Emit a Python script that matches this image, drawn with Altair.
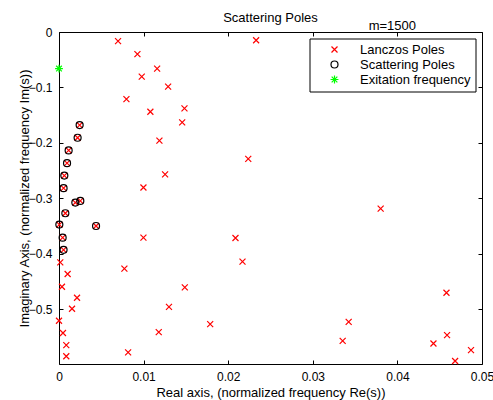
import altair as alt
import pandas as pd

# ---- data ----
# Lanczos poles (the ones not inside a circle)
lanczos_re = [0.00698, 0.00927, 0.0116, 0.00978, 0.0129, 0.00797, 0.0108, 0.01187,
              0.01254, 0.00998, 0.0233, 0.01483, 0.01456, 0.02237, 0.00998, 0.00773,
              0.0130, 0.01179, 0.00817, 0.02086, 0.02169, 0.01487, 0.01787, 0.03802,
              0.0458, 0.03424, 0.03353, 0.04587, 0.04426, 0.0487, 0.04682,
              0.00015, 0.00102, 0.00035, 0.00213, 0.00154, 0.0, 0.00047, 0.00086, 0.00086]
lanczos_im = [-0.0166, -0.040, -0.066, -0.0805, -0.0986, -0.121, -0.1438, -0.196,
              -0.257, -0.2806, -0.0148, -0.1378, -0.163, -0.2288, -0.371, -0.427,
              -0.496, -0.5416, -0.578, -0.3716, -0.4144, -0.4608, -0.527, -0.3186,
              -0.4705, -0.523, -0.5573, -0.547, -0.562, -0.574, -0.5935,
              -0.4156, -0.4367, -0.4597, -0.4795, -0.4994, -0.521, -0.543, -0.565, -0.585]
# Scattering poles (each also carries a Lanczos cross)
scatter_re = [0.00244, 0.0022, 0.00114, 0.00095, 0.00063, 0.00054, 0.00193, 0.00252,
              0.00075, 0.00004, 0.00438, 0.00043, 0.00054]
scatter_im = [-0.168, -0.1908, -0.2137, -0.2366, -0.259, -0.2818, -0.3078, -0.3047,
              -0.327, -0.3475, -0.350, -0.371, -0.393]
excit_re = [0.0]
excit_im = [-0.066]

series = ["Lanczos Poles", "Scattering Poles", "Exitation frequency"]
x_ticks = [0, 0.01, 0.02, 0.03, 0.04, 0.05]
y_ticks = [0, -0.1, -0.2, -0.3, -0.4, -0.5]
annotation = ["m=1500"]

rows = []
for r, i in zip(lanczos_re + scatter_re, lanczos_im + scatter_im):
    rows.append({"re": r, "im": i, "series": series[0]})
for r, i in zip(scatter_re, scatter_im):
    rows.append({"re": r, "im": i, "series": series[1]})
for r, i in zip(excit_re, excit_im):
    rows.append({"re": r, "im": i, "series": series[2]})
df = pd.DataFrame(rows)
df["order"] = range(len(df))

FONT = "Liberation Sans"
X_PATH = "M-1,-1L1,1M-1,1L1,-1"
STAR_PATH = "M-1,0L1,0M0,-1L0,1M-0.72,-0.72L0.72,0.72M-0.72,0.72L0.72,-0.72"

xscale = alt.Scale(domain=[0, 0.05], nice=False, zero=False)
yscale = alt.Scale(domain=[-0.599, 0], nice=False, zero=False)

TICK = 4
bottom_axis = alt.Axis(orient="bottom", values=x_ticks, format=".2~f", grid=False,
                       domain=False, tickSize=TICK, offset=-TICK, tickColor="black",
                       labelPadding=7, labelFontSize=12, labelFont=FONT, labelColor="black",
                       title="Real axis, (normalized frequency Re(s))", titleFont=FONT,
                       titleFontSize=13, titleFontWeight="normal", titleColor="black",
                       titlePadding=4, labelFlush=False)
left_axis = alt.Axis(orient="left", values=y_ticks, format=".1~f", grid=False,
                     domain=False, tickSize=TICK, offset=-TICK, tickColor="black",
                     labelPadding=7, labelFontSize=12, labelFont=FONT, labelColor="black",
                     title="Imaginary Axis, (normalized frequency Im(s))", titleFont=FONT,
                     titleFontSize=13, titleFontWeight="normal", titleColor="black",
                     titlePadding=-3, labelFlush=False)
top_axis = alt.Axis(orient="top", values=x_ticks, labels=False, grid=False, domain=False,
                    tickSize=TICK, offset=-TICK, tickColor="black", title=None)
right_axis = alt.Axis(orient="right", values=y_ticks, labels=False, grid=False, domain=False,
                      tickSize=TICK, offset=-TICK, tickColor="black", title=None)

points = alt.Chart(df).mark_point(filled=False, strokeWidth=1.2, opacity=1).encode(
    x=alt.X("re:Q", scale=xscale, axis=bottom_axis),
    y=alt.Y("im:Q", scale=yscale, axis=left_axis),
    color=alt.Color("series:N", scale=alt.Scale(domain=series,
                    range=["#ff0000", "#000000", "#00ff00"]),
                    legend=alt.Legend(title=None, orient="none", legendX=250.5, legendY=6.5,
                                      strokeColor="black", fillColor="white", padding=4.5,
                                      rowPadding=1, symbolOffset=14, labelOffset=19,
                                      labelFontSize=13, labelFont=FONT, labelColor="black",
                                      symbolStrokeWidth=1.2, cornerRadius=0)),
    shape=alt.Shape("series:N", scale=alt.Scale(domain=series,
                    range=[X_PATH, "circle", STAR_PATH])),
    size=alt.Size("series:N", scale=alt.Scale(domain=series, range=[36, 62, 105])),
    order=alt.Order("order:Q"),
)

frame = alt.Chart(df).mark_point(opacity=0).encode(
    x=alt.X("re:Q", scale=xscale, axis=top_axis),
    y=alt.Y("im:Q", scale=yscale, axis=right_axis),
)

label = alt.Chart(pd.DataFrame({"t": annotation})).mark_text(
    font=FONT, fontSize=13, color="black", baseline="alphabetic", align="center"
).encode(
    x=alt.XDatum(0.0394, axis=None, scale=xscale),
    y=alt.YDatum(0.0045, axis=None, scale=yscale),
    text="t:N",
)

chart = alt.layer(points, frame, label).resolve_axis(
    x="independent", y="independent"
).properties(
    width=423, height=332,
    title=alt.Title("Scattering Poles", font=FONT, fontSize=13, fontWeight="normal",
                    anchor="middle", frame="group", color="black", offset=-5),
    autosize=alt.AutoSizeParams(type="none"),
    padding={"left": 59, "top": 32, "right": 11, "bottom": 36},
).configure_view(stroke="black", strokeWidth=1)

chart.save("out.html", embed_options={"renderer": "svg", "actions": False})
